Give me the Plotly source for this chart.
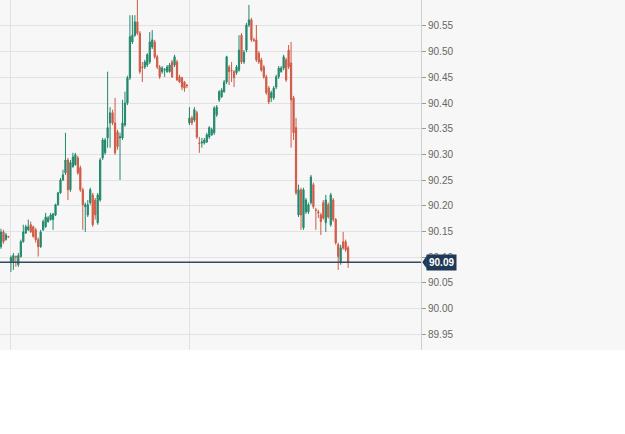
import plotly.graph_objects as go

open_ = [90.120,90.149,90.134,90.140,90.091,90.091,90.101,90.085,90.101,90.130,
         90.147,90.153,90.163,90.159,90.153,90.134,90.120,90.153,90.159,90.169,
         90.173,90.173,90.182,90.202,90.225,90.250,90.264,90.289,90.231,90.276,
         90.280,90.293,90.274,90.231,90.198,90.182,90.206,90.221,90.211,90.167,
         90.211,90.293,90.303,90.332,90.361,90.381,90.361,90.344,90.332,90.332,
         90.357,90.400,90.449,90.519,90.532,90.558,90.536,90.470,90.470,90.474,
         90.480,90.509,90.519,90.490,90.470,90.461,90.464,90.461,90.461,90.480,
         90.474,90.480,90.451,90.449,90.441,90.435,90.361,90.371,90.367,90.381,
         90.322,90.322,90.322,90.324,90.334,90.338,90.342,90.377,90.406,90.412,
         90.422,90.441,90.470,90.464,90.461,90.459,90.464,90.532,90.480,90.503,
         90.552,90.562,90.523,90.523,90.497,90.484,90.470,90.451,90.429,90.410,
         90.410,90.431,90.451,90.461,90.468,90.484,90.503,90.478,90.410,90.352,
         90.182,90.231,90.157,90.188,90.188,90.206,90.241,90.192,90.188,90.182,
         90.206,90.167,90.202,90.163,90.211,90.173,90.124,90.089,90.130,90.130,
         90.118]
high = [90.155,90.153,90.147,90.141,90.103,90.108,90.103,90.108,90.134,90.163,
        90.163,90.173,90.169,90.161,90.157,90.138,90.153,90.173,90.186,90.180,
        90.186,90.186,90.204,90.227,90.254,90.270,90.342,90.293,90.289,90.303,
        90.303,90.297,90.278,90.235,90.206,90.211,90.235,90.225,90.215,90.225,
        90.293,90.332,90.332,90.461,90.392,90.387,90.410,90.348,90.342,90.406,
        90.422,90.453,90.571,90.571,90.571,90.601,90.540,90.480,90.484,90.497,
        90.538,90.542,90.523,90.494,90.474,90.472,90.468,90.474,90.478,90.484,
        90.494,90.484,90.455,90.451,90.443,90.437,90.392,90.375,90.392,90.385,
        90.334,90.332,90.332,90.342,90.355,90.352,90.394,90.396,90.425,90.429,
        90.445,90.492,90.474,90.480,90.464,90.474,90.532,90.536,90.503,90.556,
        90.591,90.566,90.527,90.552,90.501,90.488,90.474,90.455,90.433,90.424,
        90.433,90.455,90.472,90.472,90.494,90.488,90.513,90.519,90.414,90.371,
        90.241,90.235,90.235,90.215,90.206,90.260,90.245,90.196,90.192,90.186,
        90.211,90.221,90.206,90.225,90.215,90.176,90.128,90.124,90.149,90.134,
        90.122]
low = [90.116,90.126,90.132,90.138,90.071,90.075,90.081,90.081,90.099,90.128,
       90.145,90.151,90.147,90.138,90.128,90.101,90.118,90.151,90.157,90.167,
       90.171,90.153,90.180,90.200,90.223,90.248,90.260,90.211,90.227,90.274,
       90.278,90.260,90.227,90.153,90.149,90.178,90.202,90.159,90.173,90.163,
       90.208,90.289,90.299,90.313,90.313,90.357,90.299,90.309,90.250,90.328,
       90.354,90.396,90.445,90.515,90.529,90.532,90.457,90.441,90.466,90.470,
       90.476,90.505,90.486,90.466,90.447,90.457,90.451,90.459,90.459,90.449,
       90.470,90.443,90.439,90.425,90.422,90.429,90.357,90.357,90.363,90.330,
       90.303,90.313,90.319,90.322,90.330,90.336,90.338,90.373,90.402,90.410,
       90.420,90.437,90.435,90.441,90.431,90.455,90.461,90.476,90.476,90.499,
       90.548,90.519,90.519,90.480,90.476,90.461,90.447,90.416,90.398,90.402,
       90.406,90.427,90.447,90.459,90.464,90.441,90.466,90.313,90.328,90.221,
       90.178,90.153,90.153,90.184,90.184,90.202,90.194,90.153,90.176,90.143,
       90.173,90.149,90.175,90.159,90.169,90.124,90.075,90.085,90.114,90.110,
       90.079]
close = [90.149,90.130,90.143,90.139,90.099,90.103,90.100,90.103,90.130,90.149,
         90.159,90.159,90.149,90.140,90.134,90.120,90.149,90.169,90.178,90.176,
         90.182,90.184,90.202,90.225,90.250,90.260,90.289,90.231,90.284,90.295,
         90.299,90.264,90.231,90.202,90.202,90.202,90.231,90.163,90.182,90.221,
         90.289,90.328,90.328,90.352,90.381,90.361,90.303,90.315,90.334,90.361,
         90.400,90.449,90.529,90.532,90.558,90.536,90.461,90.469,90.480,90.494,
         90.519,90.523,90.490,90.470,90.451,90.468,90.465,90.470,90.474,90.451,
         90.490,90.445,90.441,90.431,90.429,90.434,90.371,90.361,90.387,90.334,
         90.321,90.324,90.328,90.338,90.352,90.348,90.390,90.392,90.422,90.425,
         90.441,90.490,90.461,90.463,90.449,90.470,90.503,90.480,90.499,90.552,
         90.562,90.523,90.522,90.484,90.480,90.464,90.451,90.420,90.402,90.420,
         90.429,90.451,90.468,90.468,90.490,90.445,90.470,90.406,90.342,90.225,
         90.231,90.182,90.231,90.211,90.202,90.256,90.198,90.191,90.186,90.169,
         90.176,90.211,90.178,90.221,90.173,90.128,90.101,90.118,90.118,90.114,
         90.090]

bar_index = list(range(len(close)))
session_marks = [4, 76]
y_ticks = [89.95, 90.00, 90.05, 90.10, 90.15, 90.20, 90.25, 90.30, 90.35,
           90.40, 90.45, 90.50, 90.55]
last_price = close[-1]

GREEN = "#23886c"
RED = "#cf5a45"

fig = go.Figure()
fig.add_trace(go.Candlestick(
    x=bar_index, open=open_, high=high, low=low, close=close,
    increasing=dict(line=dict(color=GREEN, width=1), fillcolor=GREEN),
    decreasing=dict(line=dict(color=RED, width=1), fillcolor=RED),
    whiskerwidth=0, showlegend=False, hoverinfo="skip",
))

fig.add_hline(y=last_price, line=dict(color="#34495e", width=1.5), layer="above")

# background band for chart area (incl. axis column)
fig.add_shape(type="rect", xref="paper", yref="paper", x0=0, x1=625/421, y0=0, y1=1,
              fillcolor="#f7f7f7", line=dict(width=0), layer="below")

# price tag
fig.add_annotation(xref="paper", yref="y", x=1.012, y=last_price, xanchor="left",
                   text="<b>%.2f</b>" % last_price, showarrow=False,
                   font=dict(color="white", size=10, family="Liberation Sans"),
                   bgcolor="#1f3a57", borderpad=2)
fig.add_shape(type="path", xref="paper", yref="y",
              path="M 1.003 %f L 1.014 %f L 1.014 %f Z" % (last_price, last_price + 0.013, last_price - 0.013),
              fillcolor="#1f3a57", line=dict(width=0))

fig.update_layout(
    width=625, height=434,
    margin=dict(l=0, r=204, t=0, b=84),
    paper_bgcolor="white", plot_bgcolor="#f7f7f7",
    xaxis=dict(range=[-0.4, 169.4], rangeslider=dict(visible=False),
               tickvals=session_marks, showticklabels=False, ticks="",
               showgrid=True, gridcolor="#e2e2e2", gridwidth=1, zeroline=False),
    yaxis=dict(side="right", range=[89.919, 90.6006], tickvals=y_ticks,
               ticktext=["%.2f" % v for v in y_ticks],
               showgrid=True, gridcolor="#e2e2e2", gridwidth=1,
               showline=True, linecolor="#cfcfcf", linewidth=1,
               ticks="outside", ticklen=4, tickcolor="#9a9a9a",
               tickfont=dict(size=10, color="#666666", family="Liberation Sans"),
               zeroline=False),
)

fig.write_html("out.html")
